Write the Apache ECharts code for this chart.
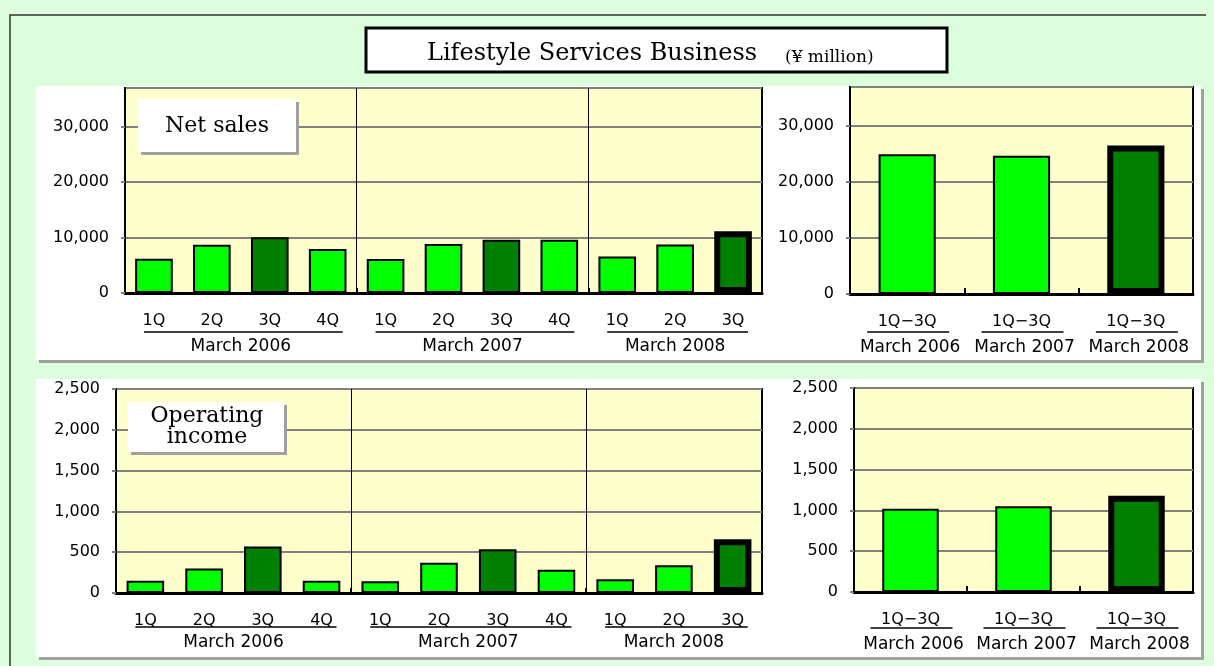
<!DOCTYPE html>
<html>
<head>
<meta charset="utf-8">
<script src="https://cdn.jsdelivr.net/npm/echarts@6/dist/echarts.min.js"></script>
<style>
html, body { margin: 0; padding: 0; background: #dcfedc; }
#chart { width: 1214px; height: 666px; }
</style>
</head>
<body>
<div id="chart"></div>
<script>
// quarterly figures (left panels)
const quarters = ['1Q', '2Q', '3Q', '4Q', '1Q', '2Q', '3Q', '4Q', '1Q', '2Q', '3Q']
const periods = ['March 2006', 'March 2007', 'March 2008']
const periodSize = [4, 4, 3]
const salesQ = [6200, 8700, 10050, 7950, 6150, 8850, 9600, 9600, 6600, 8750, 11150]
const incomeQ = [150, 300, 570, 150, 145, 370, 535, 285, 170, 340, 660]

// cumulative 1Q-3Q (right panels)
const cumLabels = ['1Q−3Q', '1Q−3Q', '1Q−3Q']
const salesCum = [25000, 24700, 26550]
const incomeCum = [1020, 1050, 1180]

// value axes
const salesTicks = { max: 37000, step: 10000 }
const incomeTicks = { max: 2500, step: 500 }

const dark = '#008000'
const light = '#00ff00'
const sans = 'DejaVu Sans'
const serif = 'DejaVu Serif'

// boundaries between fiscal years: [4, 8]
const sepAt = []
periodSize.reduce((acc, n, i) => {
  if (i < periodSize.length - 1) sepAt.push(acc + n)
  return acc + n
}, 0)
const isSep = (i) => sepAt.indexOf(i) >= 0

function quarterBars(vals) {
  return vals.map((v, i) => ({
    value: v,
    itemStyle: {
      color: quarters[i] === '3Q' ? dark : light,
      borderColor: '#000',
      borderWidth: i === vals.length - 1 ? 6 : 2
    }
  }))
}

function cumBars(vals) {
  return vals.map((v, i) => {
    const last = i === vals.length - 1
    return {
      value: v,
      itemStyle: { color: last ? dark : light, borderColor: '#000', borderWidth: last ? 6 : 2 }
    }
  })
}

function yAxisOf(grid, ticks, hideMax) {
  return {
    type: 'value', gridIndex: grid, min: 0, max: ticks.max, interval: ticks.step,
    axisLine: { show: true, lineStyle: { color: '#000', width: 2 } },
    axisTick: { show: true, length: 4, lineStyle: { color: '#808080', width: 2 } },
    splitLine: { show: true, lineStyle: { color: '#808080', width: 2 } },
    axisLabel: {
      color: '#000', fontFamily: sans, fontSize: 16, margin: 16,
      showMaxLabel: !hideMax,
      formatter: (v) => v.toLocaleString('en-US')
    }
  }
}

function quarterAxis(grid) {
  return {
    type: 'category', gridIndex: grid, data: quarters,
    axisLine: { lineStyle: { color: '#000', width: 3 } },
    axisTick: { show: true, inside: true, length: 5, interval: isSep, lineStyle: { color: '#000', width: 2 } },
    splitLine: { show: true, interval: isSep, lineStyle: { color: '#000', width: 1 } },
    axisLabel: { color: '#000', fontFamily: sans, fontSize: 16, margin: 20, interval: 0 }
  }
}

function cumAxis(grid) {
  return {
    type: 'category', gridIndex: grid, data: cumLabels,
    axisLine: { lineStyle: { color: '#000', width: 3 } },
    axisTick: { show: true, inside: true, length: 6, lineStyle: { color: '#000', width: 2 } },
    axisLabel: { color: '#000', fontFamily: sans, fontSize: 16, margin: 20, interval: 0 }
  }
}

const gridStyle = { show: true, backgroundColor: '#ffffcc', borderColor: '#000', borderWidth: 2 }

const chart = echarts.init(document.getElementById('chart'))

function panel(x, y, w, h) {
  return [
    { type: 'rect', z: -10, shape: { x: x + 3, y: y + 3, width: w, height: h }, style: { fill: '#a0a0a0' } },
    { type: 'rect', z: -10, shape: { x: x, y: y, width: w, height: h }, style: { fill: '#fff' } }
  ]
}

function labelBox(x, y, w, h, text, tx, ty) {
  return [
    { type: 'rect', z: 20, shape: { x: x + 3, y: y + 3, width: w, height: h }, style: { fill: '#a0a0a0' } },
    { type: 'rect', z: 20, shape: { x: x, y: y, width: w, height: h }, style: { fill: '#fff' } },
    {
      type: 'text', z: 21,
      style: { text: text, x: tx, y: ty, align: 'center', verticalAlign: 'middle', fontFamily: serif, fontSize: 22, lineHeight: 21, fill: '#000' }
    }
  ]
}

const staticGraphic = [
  // outer frame
  { type: 'polyline', z: -5, shape: { points: [[10, 700], [10, 15], [1206, 15]] }, style: { stroke: '#333', lineWidth: 1.5, fill: null } },
  ...panel(36, 86, 1165, 274),
  ...panel(36, 379, 1165, 278),
  // title
  { type: 'rect', z: 5, shape: { x: 366, y: 28, width: 581, height: 44 }, style: { fill: '#fff', stroke: '#000', lineWidth: 3 } },
  { type: 'text', z: 6, style: { text: 'Lifestyle Services Business', x: 427, y: 54, verticalAlign: 'middle', fontFamily: serif, fontSize: 24, fill: '#000' } },
  { type: 'text', z: 6, style: { text: '(¥ million)', x: 785, y: 58, verticalAlign: 'middle', fontFamily: serif, fontSize: 17, fill: '#000' } },
  ...labelBox(138, 99, 158, 53, 'Net sales', 217, 126),
  ...labelBox(128, 402, 156, 50, 'Operating\nincome', 207, 427)
]

chart.setOption({
  animation: false,
  grid: [
    Object.assign({ left: 125, top: 88, width: 637, height: 205 }, gridStyle),
    Object.assign({ left: 850, top: 87, width: 343, height: 207 }, gridStyle),
    Object.assign({ left: 116, top: 389, width: 646, height: 204 }, gridStyle),
    Object.assign({ left: 854, top: 388, width: 339, height: 204 }, gridStyle)
  ],
  xAxis: [quarterAxis(0), cumAxis(1), quarterAxis(2), cumAxis(3)],
  yAxis: [
    yAxisOf(0, salesTicks, true),
    yAxisOf(1, salesTicks, true),
    yAxisOf(2, incomeTicks, false),
    yAxisOf(3, incomeTicks, false)
  ],
  series: [
    { type: 'bar', xAxisIndex: 0, yAxisIndex: 0, data: quarterBars(salesQ), barWidth: '65%' },
    { type: 'bar', xAxisIndex: 1, yAxisIndex: 1, data: cumBars(salesCum), barWidth: '50%' },
    { type: 'bar', xAxisIndex: 2, yAxisIndex: 2, data: quarterBars(incomeQ), barWidth: '64%' },
    { type: 'bar', xAxisIndex: 3, yAxisIndex: 3, data: cumBars(incomeCum), barWidth: '50%' }
  ],
  graphic: staticGraphic
})

// underlines and fiscal-year captions placed from the axis scales
function line(x1, x2, y) {
  return { type: 'line', z: 10, shape: { x1: x1, y1: y, x2: x2, y2: y }, style: { stroke: '#000', lineWidth: 1.5 } }
}
function caption(text, x, y) {
  return { type: 'text', z: 10, style: { text: text, x: x, y: y, align: 'center', verticalAlign: 'middle', fontFamily: sans, fontSize: 17, fill: '#000' } }
}

const extra = []
function quarterCaptions(axis, lineDy, textDy) {
  const y0 = chart.convertToPixel({ yAxisIndex: axis }, 0)
  let s = 0
  periodSize.forEach((n, g) => {
    const a = chart.convertToPixel({ xAxisIndex: axis }, s)
    const b = chart.convertToPixel({ xAxisIndex: axis }, s + n - 1)
    extra.push(line(a - 10, b + 15, y0 + lineDy))
    extra.push(caption(periods[g], (a + b) / 2, y0 + textDy))
    s += n
  })
}
function cumCaptions(axis, lineDy, textDy) {
  const y0 = chart.convertToPixel({ yAxisIndex: axis }, 0)
  periods.forEach((p, i) => {
    const c = chart.convertToPixel({ xAxisIndex: axis }, i)
    extra.push(line(c - 40, c + 42, y0 + lineDy))
    extra.push(caption(p, c + 3, y0 + textDy))
  })
}
quarterCaptions(0, 39, 54)
cumCaptions(1, 38, 54)
quarterCaptions(2, 34, 50)
cumCaptions(3, 36, 53)

chart.setOption({ graphic: staticGraphic.concat(extra) })
</script>
</body>
</html>
